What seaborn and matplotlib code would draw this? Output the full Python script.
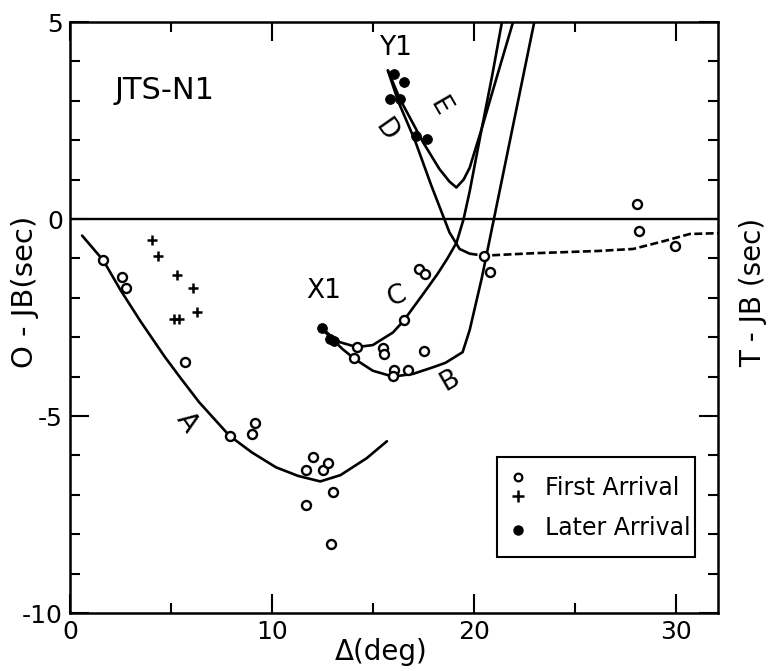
import numpy as np
import matplotlib
matplotlib.use("Agg")
import matplotlib.pyplot as plt
import seaborn as sns
from matplotlib.ticker import MultipleLocator
from matplotlib.patches import Rectangle

# ---------------------------------------------------------------- data
# travel-time branches (delta in deg, O - JB in sec)
a_x = [0.6, 1.65, 2.5, 3.5, 4.7, 5.5, 6.4, 7.9, 9.0, 10.2, 11.3, 12.4, 13.4, 14.7, 15.7]
a_y = [-0.42, -1.05, -1.8, -2.6, -3.5, -4.05, -4.65, -5.5, -5.92, -6.3, -6.52, -6.66, -6.5, -6.07, -5.64]

b_x = [12.6, 13.5, 14.1, 15.0, 16.0, 17.0, 18.0, 18.6, 19.45, 19.8, 20.4, 21.0, 22.0, 23.0]
b_y = [-2.85, -3.3, -3.55, -3.85, -4.0, -3.93, -3.76, -3.65, -3.38, -2.82, -1.5, 0.0, 2.5, 5.0]

c_x = [12.5, 13.2, 14.2, 15.0, 16.0, 16.5, 17.5, 18.2, 18.7, 19.15, 19.5, 19.8, 20.1, 20.4, 20.9, 21.4]
c_y = [-2.77, -3.1, -3.25, -3.2, -2.88, -2.6, -1.9, -1.4, -1.0, -0.6, 0.0, 0.7, 1.5, 2.3, 3.6, 5.0]

d_x = [15.75, 16.25, 17.1, 17.9, 18.8, 19.3, 19.8]
d_y = [3.77, 3.0, 1.98, 0.85, -0.34, -0.76, -0.88]

e_x = [15.75, 16.34, 17.49, 18.3, 18.8, 19.14, 19.5, 19.8, 20.4, 21.2, 21.95]
e_y = [3.77, 3.05, 1.95, 1.27, 0.95, 0.8, 1.0, 1.3, 2.3, 3.7, 5.0]

# dashed T - JB curve
t_x = [19.8, 20.5, 22.9, 26.2, 27.9, 29.5, 30.7, 32.1]
t_y = [-0.88, -0.93, -0.87, -0.81, -0.76, -0.55, -0.38, -0.36]

# first arrivals (open circles)
first_x = [1.65, 2.59, 2.8, 5.69, 7.92, 9.03, 9.19, 12.05, 11.68, 12.51, 12.79, 13.04, 11.67, 12.92,
           14.22, 14.08, 15.51, 15.56, 16.53, 17.55, 16.05, 16.0, 16.75, 17.28, 17.6,
           20.51, 20.79, 28.09, 28.18, 29.95]
first_y = [-1.04, -1.46, -1.75, -3.62, -5.51, -5.45, -5.17, -6.04, -6.36, -6.36, -6.19, -6.94, -7.25, -8.24,
           -3.25, -3.53, -3.27, -3.42, -2.57, -3.34, -3.84, -3.99, -3.84, -1.27, -1.4,
           -0.93, -1.34, 0.38, -0.3, -0.68]

# first arrivals (plus signs)
plus_x = [4.04, 4.37, 5.31, 6.1, 6.27, 5.15, 5.41]
plus_y = [-0.53, -0.95, -1.42, -1.74, -2.35, -2.53, -2.53]

# later arrivals (filled dots)
later_x = [12.49, 12.87, 13.07, 16.04, 16.55, 15.87, 16.34, 17.16, 17.69]
later_y = [-2.77, -3.05, -3.1, 3.67, 3.49, 3.04, 3.04, 2.1, 2.04]

# branch labels
lab_text = ["A", "B", "C", "D", "E", "X1", "Y1"]
lab_x = [5.78, 18.81, 16.2, 15.63, 18.32, 12.57, 16.14]
lab_y = [-5.17, -4.1, -1.97, 2.25, 2.84, -1.82, 4.35]
lab_rot = [-55, 30, 20, -55, -60, 0, 0]

# ---------------------------------------------------------------- plot
sns.set_theme(style="ticks")
plt.rcParams["font.family"] = ["DejaVu Sans"]
plt.rcParams["axes.unicode_minus"] = False
plt.rcParams["text.color"] = "black"
plt.rcParams["axes.labelcolor"] = "black"

fig = plt.figure(figsize=(7.68, 6.71), dpi=100)
ax = fig.add_axes([0.0911, 0.0864, 0.84375, 0.8808])

lw = 1.9
for xs, ys in [(a_x, a_y), (b_x, b_y), (c_x, c_y), (d_x, d_y), (e_x, e_y)]:
    sns.lineplot(x=xs, y=ys, sort=False, estimator=None, color="black", lw=lw, ax=ax)
sns.lineplot(x=t_x, y=t_y, sort=False, estimator=None, color="black", lw=lw,
             linestyle=(0, (3.0, 1.3)), ax=ax)

ax.axhline(0, color="black", lw=1.7)

sns.scatterplot(x=first_x, y=first_y, marker="o", s=42, facecolor="white",
                edgecolor="black", linewidth=1.7, zorder=3, ax=ax)
sns.scatterplot(x=plus_x, y=plus_y, marker="+", s=60, color="black",
                linewidth=1.8, zorder=3, ax=ax)
sns.scatterplot(x=later_x, y=later_y, marker="o", s=50, color="black",
                edgecolor="black", zorder=3, ax=ax)

for t, x, y, r in zip(lab_text, lab_x, lab_y, lab_rot):
    ax.text(x, y, t, fontsize=19, rotation=r, ha="center", va="center")

ax.text(2.2, 3.26, "JTS-N1", fontsize=22, ha="left", va="center")

# legend box drawn by hand (two symbols share the first entry)
ax.add_patch(Rectangle((0.6585, 0.0953), 0.306, 0.1692, transform=ax.transAxes,
                       facecolor="white", edgecolor="black", lw=1.5, zorder=4))
ax.plot([0.691], [0.2306], "o", ms=5.5, mfc="white", mec="black", mew=1.6,
        transform=ax.transAxes, zorder=5)
ax.plot([0.691], [0.1985], "+", ms=8, color="black", mew=1.8,
        transform=ax.transAxes, zorder=5)
ax.plot([0.691], [0.1404], "o", ms=6.5, color="black",
        transform=ax.transAxes, zorder=5)
ax.text(0.733, 0.2115, "First Arrival", fontsize=17, ha="left", va="center",
        transform=ax.transAxes, zorder=5)
ax.text(0.733, 0.1438, "Later Arrival", fontsize=17, ha="left", va="center",
        transform=ax.transAxes, zorder=5)

ax.set_xlim(0, 32.1)
ax.set_ylim(-10, 5)
ax.xaxis.set_major_locator(MultipleLocator(10))
ax.xaxis.set_minor_locator(MultipleLocator(5))
ax.yaxis.set_major_locator(MultipleLocator(5))
ax.yaxis.set_minor_locator(MultipleLocator(1))
ax.tick_params(which="both", direction="in", top=True, right=True,
               labelright=False, width=1.5, colors="black", labelsize=18, pad=5)
ax.tick_params(which="major", length=14)
ax.tick_params(which="minor", length=7)
for s in ax.spines.values():
    s.set_linewidth(1.8)
    s.set_color("black")

ax.set_xlabel("Δ(deg)", fontsize=20)
ax.xaxis.set_label_coords(0.48, -0.043)
ax.set_ylabel("O - JB(sec)", fontsize=21)
ax.yaxis.set_label_coords(-0.048, 0.543)
ax.text(1.054, 0.543, "T - JB (sec)", fontsize=20, rotation=90,
        ha="center", va="center", transform=ax.transAxes)

fig.savefig("out.png", dpi=100)
